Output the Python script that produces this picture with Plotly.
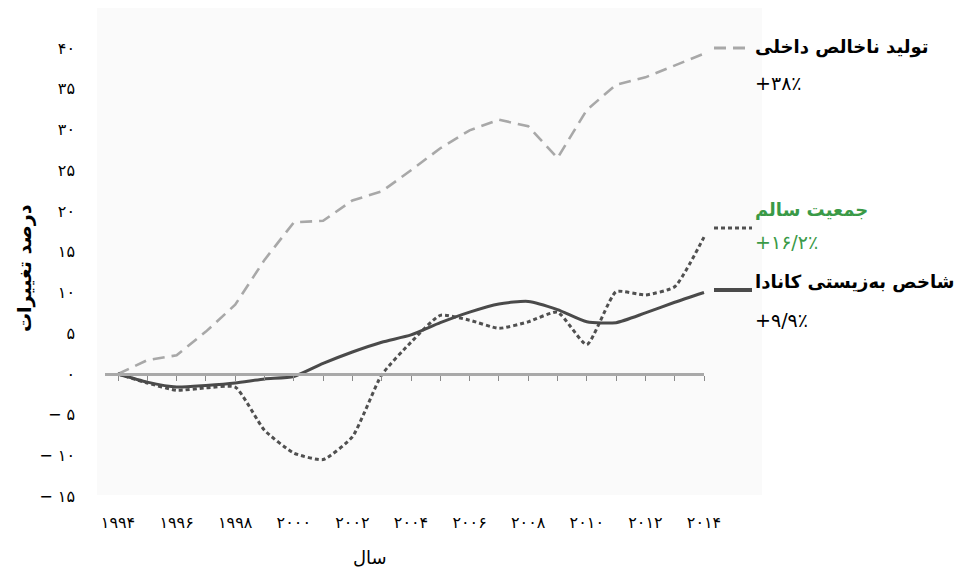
import plotly.graph_objects as go

# ---------------- data ----------------
years = list(range(1994, 2015))
gdp = [0, 1.7, 2.3, 5.2, 8.5, 14.0, 18.6, 18.8, 21.3, 22.4, 25.0,
       27.7, 29.9, 31.2, 30.4, 26.5, 32.4, 35.5, 36.4, 37.9, 39.3]
healthy_pop = [0, -1.1, -2.0, -1.7, -1.6, -6.9, -9.7, -10.5, -7.7, -0.1, 3.9,
               7.2, 6.6, 5.6, 6.4, 7.6, 3.6, 10.1, 9.7, 10.7, 16.8]
ciw = [0, -1.0, -1.6, -1.4, -1.1, -0.6, -0.3, 1.3, 2.7, 3.9, 4.8,
       6.3, 7.6, 8.6, 8.9, 7.9, 6.4, 6.3, 7.5, 8.8, 10.0]

x_tick_years = list(range(1994, 2015, 2))
x_tick_labels = ["۱۹۹۴", "۱۹۹۶", "۱۹۹۸", "۲۰۰۰", "۲۰۰۲", "۲۰۰۴",
                 "۲۰۰۶", "۲۰۰۸", "۲۰۱۰", "۲۰۱۲", "۲۰۱۴"]
y_tick_vals = [40, 35, 30, 25, 20, 15, 10, 5, 0, -5, -10, -15]
y_tick_labels = ["۴۰", "۳۵", "۳۰", "۲۵", "۲۰", "۱۵", "۱۰", "۵", "۰",
                 "− ۵", "− ۱۰", "− ۱۵"]

series_names = ["تولید ناخالص داخلی", "جمعیت سالم", "شاخص به‌زیستی کانادا"]
series_changes = ["+۳۸٪", "+۱۶/۲٪", "+۹/۹٪"]
y_title = "درصد تغییرات"
x_title = "سال"

# ---------------- layout geometry ----------------
W, H = 959, 575
L, R, T, B = 97, 762, 8, 498
X0PX, XSTEP = 118, 29.3        # pixel of first year, pixels per year
Y0PX, YSTEP = 374, 8.15        # pixel of zero, pixels per unit

xmin = years[0] - (X0PX - L) / XSTEP
xmax = years[-1] + (R - (X0PX + XSTEP * (years[-1] - years[0]))) / XSTEP
ymax = (Y0PX - T) / YSTEP
ymin = (Y0PX - B) / YSTEP


def px_x(px):
    return (px - L) / (R - L)


def px_y(py):
    return (B - py) / (B - T)


FONT = "DejaVu Sans"
GREEN = "#3a9a47"

fig = go.Figure()

fig.add_trace(go.Scatter(x=years, y=gdp, mode="lines", name=series_names[0],
                         line=dict(color="#a8a8a8", width=2.6, dash="12px,7px")))
fig.add_trace(go.Scatter(x=years, y=healthy_pop, mode="lines", name=series_names[1],
                         line=dict(color="#505050", width=3, dash="4px,3px",
                                   shape="spline", smoothing=0.5)))
fig.add_trace(go.Scatter(x=years, y=ciw, mode="lines", name=series_names[2],
                         line=dict(color="#4a4a4a", width=3,
                                   shape="spline", smoothing=0.6)))
# dummy trace so the zero baseline axis (x2) is drawn
fig.add_trace(go.Scatter(x=[years[0]], y=[0], xaxis="x2", mode="markers",
                         marker=dict(opacity=0), hoverinfo="skip", showlegend=False))

fig.update_layout(
    template="none",
    width=W, height=H,
    margin=dict(l=L, r=W - R, t=T, b=H - B, autoexpand=False),
    paper_bgcolor="white",
    plot_bgcolor="rgba(0,0,0,0)",
    showlegend=False,
    font=dict(family=FONT, color="black"),
    xaxis=dict(range=[xmin, xmax], showgrid=False, zeroline=False, showline=False,
               automargin=False,
               tickmode="array", tickvals=x_tick_years, ticktext=x_tick_labels,
               ticks="", ticklabelstandoff=13, tickfont=dict(size=16, family=FONT)),
    xaxis2=dict(domain=[px_x(105), px_x(X0PX + XSTEP * (years[-1] - years[0]))],
                range=[years[0] - (X0PX - 105) / XSTEP, years[-1]],
                anchor="free", position=(0 - ymin) / (ymax - ymin), side="bottom",
                automargin=False,
                showline=True, linecolor="#a9a9a9", linewidth=3,
                ticks="outside", ticklen=5, tickwidth=1, tickcolor="#8a8a8a",
                tick0=years[0], dtick=1, showticklabels=False,
                showgrid=False, zeroline=False),
    yaxis=dict(range=[ymin, ymax], showgrid=False, zeroline=False, showline=False,
               automargin=False,
               tickmode="array", tickvals=y_tick_vals, ticktext=y_tick_labels,
               ticks="", ticklabelstandoff=21, tickfont=dict(size=16, family=FONT)),
)

# faint plot background
fig.add_shape(type="rect", xref="paper", yref="paper", x0=0, x1=1, y0=px_y(495), y1=1,
              fillcolor="#fafafa", line=dict(width=0), layer="below")

# axis titles
fig.add_annotation(text="<b>" + y_title + "</b>", xref="paper", yref="paper",
                   x=px_x(25), y=px_y(268), textangle=-90, showarrow=False,
                   font=dict(size=19, family=FONT, color="black"),
                   xanchor="center", yanchor="middle")
fig.add_annotation(text=x_title, xref="paper", yref="paper",
                   x=px_x(370), y=px_y(557), showarrow=False,
                   font=dict(size=18, family=FONT, color="black"),
                   xanchor="center", yanchor="middle")

# legend labels on the right
label_specs = [
    (series_names[0], series_changes[0], "black", 47, 83, 18),
    (series_names[1], series_changes[1], GREEN, 209, 242, 18),
    (series_names[2], series_changes[2], "black", 282, 320, 18),
]
for name, change, col, yh, yv, fs in label_specs:
    fig.add_annotation(text="<b>" + name + "</b>", xref="paper", yref="paper",
                       x=px_x(753), y=px_y(yh), showarrow=False,
                       xanchor="left", yanchor="middle",
                       font=dict(size=fs, family=FONT, color=col))
    fig.add_annotation(text=change, xref="paper", yref="paper",
                       x=px_x(753), y=px_y(yv), showarrow=False,
                       xanchor="left", yanchor="middle",
                       font=dict(size=19, family=FONT, color=col))

# legend line samples
sample_specs = [
    (48, "#a8a8a8", 3, "12px,7px"),
    (228, "#505050", 3, "4px,3px"),
    (290, "#4a4a4a", 4, "solid"),
]
for yp, col, wd, dsh in sample_specs:
    fig.add_shape(type="line", xref="paper", yref="paper",
                  x0=px_x(714), x1=px_x(752), y0=px_y(yp), y1=px_y(yp),
                  line=dict(color=col, width=wd, dash=dsh))

fig.write_html("out.html", config={"displayModeBar": False},
               post_script="document.body.style.margin='0px';")
